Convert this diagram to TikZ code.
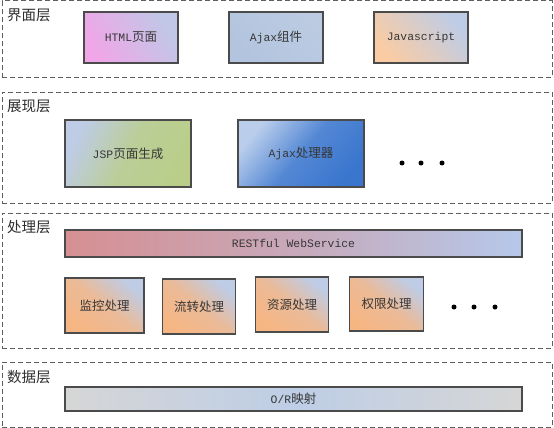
\documentclass[tikz,border=0pt]{standalone}
\usepackage{fontspec}
\newfontfamily\cjk{Noto Sans CJK SC}
\newfontfamily\mono{Liberation Mono}
\definecolor{dashc}{RGB}{95,95,95}
\definecolor{edgec}{RGB}{75,75,75}
\definecolor{txtc}{RGB}{55,55,55}
\definecolor{lblc}{RGB}{45,45,45}
\definecolor{pinkc}{RGB}{240,166,232}
\definecolor{lavc}{RGB}{192,200,230}
\definecolor{greyblue}{RGB}{178,196,222}
\definecolor{greyblue2}{RGB}{188,203,226}
\definecolor{orangec}{RGB}{250,204,164}
\definecolor{orange2}{RGB}{246,182,132}
\definecolor{lightblue}{RGB}{190,204,230}
\definecolor{greenc}{RGB}{186,206,138}
\definecolor{deepblue}{RGB}{58,118,206}
\definecolor{paleblue}{RGB}{186,206,236}
\definecolor{redc}{RGB}{214,143,146}
\definecolor{restblue}{RGB}{182,200,234}
\definecolor{greyc}{RGB}{214,214,214}
\definecolor{ormblue}{RGB}{190,206,230}
\tikzset{
  layerbox/.style={draw=dashc, line width=1pt, dash pattern=on 5pt off 3pt, rectangle, inner sep=0pt},
  layerlbl/.style={anchor=west, inner sep=0pt, text=lblc, font=\cjk\fontsize{14.5}{16}\selectfont},
  compbox/.style={draw=edgec, line width=1.1pt, rectangle, inner sep=0pt, text=txtc, font=\fontsize{12}{14}\selectfont},
  dotc/.style={circle, fill=black, inner sep=0pt, minimum size=5pt},
}
\newcommand{\mt}[1]{{\mono\fontsize{11.4}{13}\selectfont #1}}
\newcommand{\ct}[1]{{\cjk\fontsize{12.5}{14}\selectfont #1}}
\begin{document}
\begin{tikzpicture}[x=1pt,y=-1pt]
\useasboundingbox (0,0) rectangle (554,428);
% layers
\node[layerbox, minimum width=550pt, minimum height=76pt] (l1) at (277,39) {};
\node[layerbox, minimum width=550pt, minimum height=111pt] (l2) at (277,147.5) {};
\node[layerbox, minimum width=550pt, minimum height=135pt] (l3) at (277,280.5) {};
\node[layerbox, minimum width=550pt, minimum height=65pt] (l4) at (277,394.5) {};
\node[layerlbl] (t1) at (7,15) {界面层};
\node[layerlbl] (t2) at (7,106) {展现层};
\node[layerlbl] (t3) at (7,227) {处理层};
\node[layerlbl] (t4) at (7,377) {数据层};
% layer 1
\node[compbox, minimum width=94pt, minimum height=51pt, top color=lavc, bottom color=pinkc, shading angle=-60] (html) at (131,37.5) {\mt{HTML}\ct{页面}};
\node[compbox, minimum width=94pt, minimum height=51pt, top color=greyblue2, bottom color=greyblue, shading angle=-45] (ajaxc) at (276,37.5) {\mt{Ajax}\ct{组件}};
\node[compbox, minimum width=94pt, minimum height=51pt, top color=lightblue, bottom color=orangec, shading angle=-50] (js) at (421,37.5) {\mt{Javascript}};
% layer 2
\node[compbox, minimum width=126pt, minimum height=67pt, top color=lightblue, bottom color=greenc, middle color=greenc!85!lightblue, shading angle=65] (jsp) at (128,153.5) {\mt{JSP}\ct{页面生成}};
\node[compbox, minimum width=126pt, minimum height=67pt, top color=paleblue, bottom color=deepblue, middle color=deepblue!80!paleblue, shading angle=50] (ajaxp) at (301,153.5) {\mt{Ajax}\ct{处理器}};
\node[dotc] (d1) at (402,163) {};
\node[dotc] (d2) at (421,163) {};
\node[dotc] (d3) at (442,163) {};
% layer 3
\node[compbox, minimum width=457pt, minimum height=27pt, left color=redc, right color=restblue, middle color=redc!55!restblue] (rest) at (293.5,243.5) {\mt{RESTful WebService}};
\tikzset{procbox/.style={compbox, minimum height=55pt, top color=lightblue, bottom color=orange2, middle color=orange2!80!lightblue, shading angle=-40}}
\node[procbox, minimum width=79pt] (jk) at (104.5,305.5) {\ct{监控处理}};
\node[procbox, minimum width=73pt] (lz) at (199,306.5) {\ct{流转处理}};
\node[procbox, minimum width=73pt] (zy) at (292,304.5) {\ct{资源处理}};
\node[procbox, minimum width=74pt, minimum height=54pt] (qx) at (386.5,304) {\ct{权限处理}};
\node[dotc] (e1) at (454,307) {};
\node[dotc] (e2) at (474,307) {};
\node[dotc] (e3) at (495,307) {};
% layer 4
\node[compbox, minimum width=457pt, minimum height=24pt, left color=greyc, right color=greyc, middle color=ormblue] (orm) at (293.5,399) {\mt{O/R}\ct{映射}};
\end{tikzpicture}
\end{document}
